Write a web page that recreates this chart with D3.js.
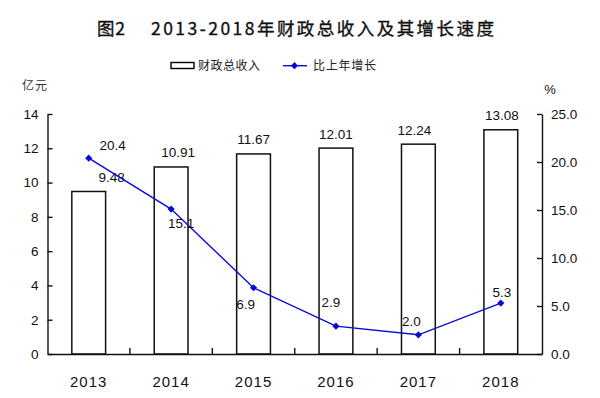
<!DOCTYPE html>
<html><head><meta charset="utf-8">
<script src="https://cdn.jsdelivr.net/npm/d3@7"></script>
<style>
html,body{margin:0;padding:0;background:#fff;}
svg{display:block;}
</style></head>
<body>
<svg id="chart" width="600" height="398"></svg>
<script>
const years = ["2013","2014","2015","2016","2017","2018"];
const revenue = [9.48, 10.91, 11.67, 12.01, 12.24, 13.08];
const growth = [20.4, 15.1, 6.9, 2.9, 2.0, 5.3];
const leftTicks = [0,2,4,6,8,10,12,14];
const rightTicks = [0,5,10,15,20,25];
const titlePrefix = "图2";
const titleText = "2013-2018年财政总收入及其增长速度";
const seriesNames = ["财政总收入","比上年增长"];
const leftUnit = "亿元";
const rightUnit = "%";

// label placement tweaks (dx, dy of label centre from its mark)
const barLabelDx = [23, 7, 0, 0, -4, 1];
const lineLabelOff = [[24,-13],[10,14],[-8,17],[-5,-24],[-7,-14],[1,-11]];

const svg = d3.select("#chart");
const L = 47.5, R = 542, T = 114, B = 354;
const num = "'Liberation Sans', Arial, sans-serif";
const cjk = "'Noto Sans CJK SC', sans-serif";
const blue = "#0a0ad8";

const x = d3.scaleBand().domain(years).range([L, R]).paddingInner(0.59).paddingOuter(0.295);
const yL = d3.scaleLinear().domain([0,14]).range([B, T]);
const yR = d3.scaleLinear().domain([0,25]).range([B, T]);

// title
svg.append("text").attr("x", 97).attr("y", 35).attr("font-family", cjk).attr("font-size", 17.5)
  .attr("font-weight", "normal").attr("stroke", "#111").attr("stroke-width", 0.35).attr("fill", "#111")
  .attr("textLength", 28).attr("lengthAdjust","spacing")
  .text(titlePrefix);
svg.append("text").attr("x", 151).attr("y", 35).attr("font-family", cjk).attr("font-size", 17.5)
  .attr("font-weight", "normal").attr("stroke", "#111").attr("stroke-width", 0.35).attr("fill", "#111")
  .attr("textLength", 343).attr("lengthAdjust","spacing")
  .text(titleText);

// legend
const lg = svg.append("g");
lg.append("rect").attr("x", 171).attr("y", 62.5).attr("width", 23).attr("height", 6)
  .attr("fill", "#fff").attr("stroke", "#000").attr("stroke-width", 1.4);
lg.append("text").attr("x", 198).attr("y", 70).attr("font-family", cjk).attr("font-size", 12)
  .attr("fill", "#222").attr("textLength", 62).attr("lengthAdjust","spacing").text(seriesNames[0]);
lg.append("line").attr("x1", 283).attr("x2", 307).attr("y1", 65.7).attr("y2", 65.7)
  .attr("stroke", blue).attr("stroke-width", 1.4);
lg.append("path").attr("d", d3.symbol(d3.symbolSquare, 26)()).attr("transform", "translate(294.5,65.7) rotate(45)")
  .attr("fill", blue);
lg.append("text").attr("x", 313).attr("y", 70).attr("font-family", cjk).attr("font-size", 12)
  .attr("fill", "#222").attr("textLength", 63).attr("lengthAdjust","spacing").text(seriesNames[1]);

// unit labels
svg.append("text").attr("x", 22).attr("y", 90).attr("font-family", cjk).attr("font-size", 12)
  .attr("fill", "#333").attr("textLength", 25).text(leftUnit);
svg.append("text").attr("x", 550).attr("y", 94).attr("font-family", num).attr("font-size", 13)
  .attr("text-anchor","middle").attr("fill", "#111").text(rightUnit);

// bars
svg.append("g").selectAll("rect").data(revenue).join("rect")
  .attr("x", (d,i) => x(years[i])).attr("width", x.bandwidth())
  .attr("y", d => yL(d)).attr("height", d => B - yL(d))
  .attr("fill", "#fff").attr("stroke", "#111").attr("stroke-width", 1.5);

// axes
function styleAxis(g){
  g.select(".domain").attr("stroke", "#111").attr("stroke-width", 1.4);
  g.selectAll(".tick line").attr("stroke", "#111").attr("stroke-width", 1.4);
  g.selectAll(".tick text").attr("font-family", num).attr("font-size", 13.5).attr("fill", "#111");
}
svg.append("g").attr("transform", `translate(${L},0)`)
  .call(d3.axisLeft(yL).tickValues(leftTicks).tickFormat(d3.format("d")).tickSizeInner(-5).tickSizeOuter(0).tickPadding(9))
  .call(styleAxis);
svg.append("g").attr("transform", `translate(${R},0)`)
  .call(d3.axisRight(yR).tickValues(rightTicks).tickFormat(d3.format(".1f")).tickSizeInner(-5).tickSizeOuter(0).tickPadding(9))
  .call(styleAxis);
const xa = svg.append("g").attr("transform", `translate(0,${B})`)
  .call(d3.axisBottom(x).tickSize(0).tickPadding(22))
  .call(styleAxis);
xa.selectAll(".tick text").attr("font-size", 15).attr("letter-spacing", "1px");
// category separators
const sep = years.slice(1).map(y => x(y) - x.step() * x.paddingInner() / 2);
svg.append("g").selectAll("line").data(sep).join("line")
  .attr("x1", d => d).attr("x2", d => d).attr("y1", B).attr("y2", B - 6)
  .attr("stroke", "#111").attr("stroke-width", 1.4);

// bar labels
svg.append("g").selectAll("text").data(revenue).join("text")
  .attr("x", (d,i) => x(years[i]) + x.bandwidth()/2 + barLabelDx[i])
  .attr("y", d => yL(d) - 9.5)
  .attr("text-anchor", "middle").attr("font-family", num).attr("font-size", 13.5).attr("fill", "#111")
  .text(d => d.toFixed(2));

// line
const cx = i => x(years[i]) + x.bandwidth()/2;
const line = d3.line().x((d,i) => cx(i)).y(d => yR(d));
svg.append("path").datum(growth).attr("d", line).attr("fill", "none")
  .attr("stroke", blue).attr("stroke-width", 1.4);
svg.append("g").selectAll("path").data(growth).join("path")
  .attr("d", d3.symbol(d3.symbolSquare, 26)())
  .attr("transform", (d,i) => `translate(${cx(i)},${yR(d)}) rotate(45)`)
  .attr("fill", blue);

// line labels
svg.append("g").selectAll("text").data(growth).join("text")
  .attr("x", (d,i) => cx(i) + lineLabelOff[i][0])
  .attr("y", (d,i) => yR(d) + lineLabelOff[i][1] + 4.7)
  .attr("text-anchor", "middle").attr("font-family", num).attr("font-size", 13.5).attr("fill", "#111")
  .text(d => d.toFixed(1));
</script>
</body></html>
